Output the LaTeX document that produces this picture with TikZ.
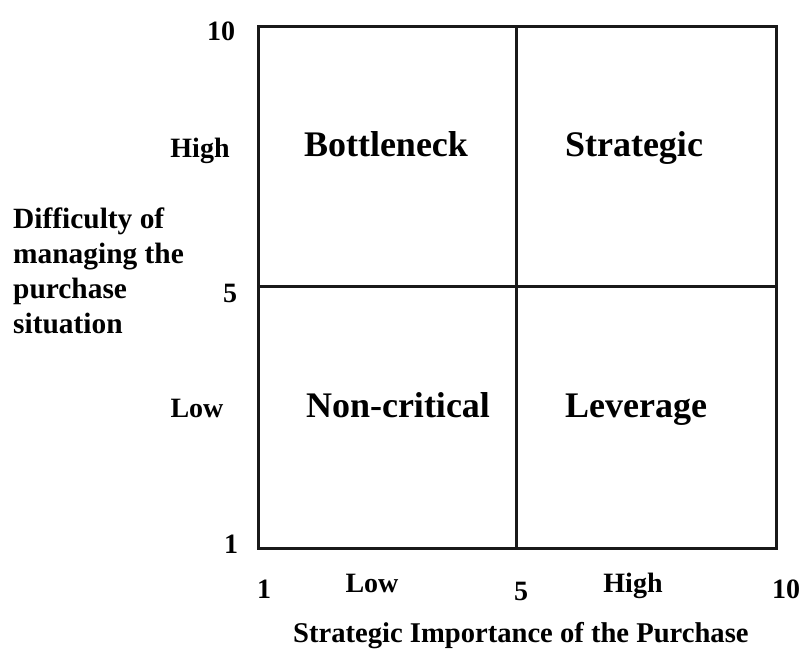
\documentclass[tikz,border=0pt]{standalone}
\usepackage{fontspec}
\setmainfont{Liberation Serif}
\begin{document}
\begin{tikzpicture}[x=1pt,y=-1pt,
  grid/.style={line width=3pt,black!90},
  quad/.style={anchor=base,inner sep=0pt,font=\bfseries\fontsize{36}{40}\selectfont},
  tick/.style={anchor=base,inner sep=0pt,font=\bfseries\fontsize{28}{32}\selectfont},
  axt/.style={inner sep=0pt,font=\bfseries\fontsize{28.6}{35}\selectfont}]
\useasboundingbox (0,0) rectangle (803,649);
\coordinate (tl) at (258,26);
\coordinate (br) at (776,548);
\coordinate (tm) at (516,26);
\coordinate (bm) at (516,548);
\coordinate (ml) at (258,286);
\coordinate (mr) at (776,286);
\draw[grid] (tl) rectangle (br);
\draw[grid] (tm) -- (bm);
\draw[grid] (ml) -- (mr);
\node[quad] (bott) at (386,156) {Bottleneck};
\node[quad] (strat) at (634,156) {Strategic};
\node[quad] (noncrit) at (398,417) {Non-critical};
\node[quad] (lev) at (636,417) {Leverage};
\node[tick] (y10) at (221,40) {10};
\node[tick] (yhigh) at (200,157) {High};
\node[tick] (y5) at (230,302) {5};
\node[tick] (ylow) at (197,417) {Low};
\node[tick] (y1) at (231,553) {1};
\node[tick] (x1) at (264,598) {1};
\node[tick] (xlow) at (372,592) {Low};
\node[tick] (x5) at (521,600) {5};
\node[tick] (xhigh) at (633,592) {High};
\node[tick] (x10) at (786,598) {10};
\node[axt,anchor=base west] (xt) at (293,642) {Strategic Importance of the Purchase};
\node[axt,anchor=base west,align=left,font=\bfseries\fontsize{29.4}{35}\selectfont] (yt) at (13,333) {Difficulty of\\managing the\\purchase\\situation};
\end{tikzpicture}
\end{document}
